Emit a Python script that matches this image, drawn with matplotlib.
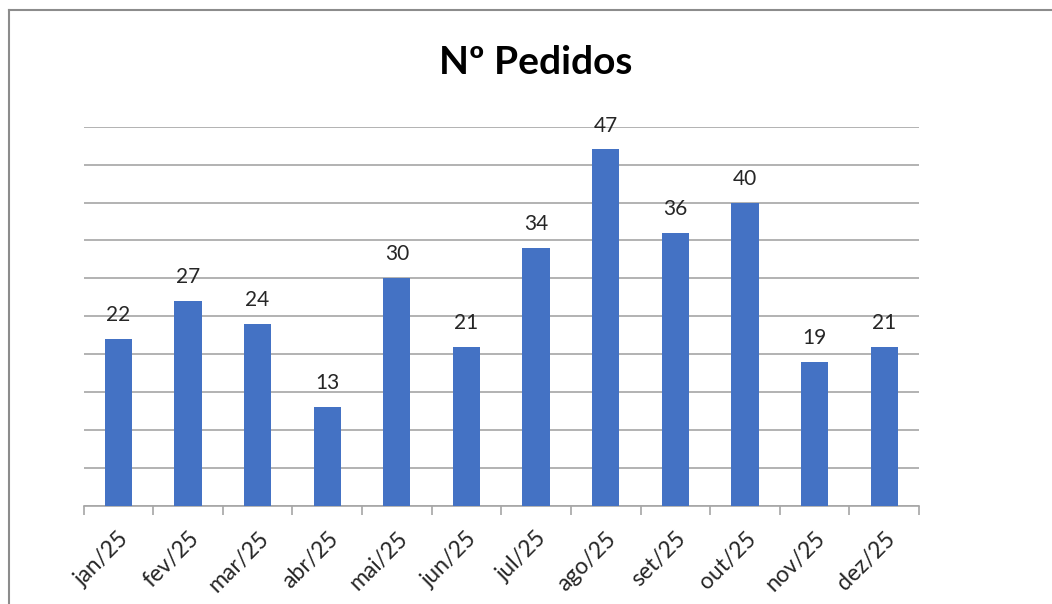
import numpy as np
import matplotlib.pyplot as plt
from matplotlib.lines import Line2D

# Nº Pedidos por mês
meses = ["jan/25", "fev/25", "mar/25", "abr/25", "mai/25", "jun/25",
         "jul/25", "ago/25", "set/25", "out/25", "nov/25", "dez/25"]
pedidos = [22, 27, 24, 13, 30, 21, 34, 47, 36, 40, 19, 21]

plt.rcParams['font.family'] = ['Lato', 'DejaVu Sans']
cor_barra = '#4472C4'
cinza = '#A6A6A6'

fig = plt.figure(figsize=(10.52, 6.04), dpi=100)
ax = fig.add_axes([83.5/1052, 98.3/604, 835.5/1052, 379/604])

x = np.arange(len(meses))
bars = ax.bar(x, pedidos, width=0.39, color=cor_barra, zorder=3)

for xi, v in zip(x, pedidos):
    ax.annotate(str(v), (xi, v), xytext=(0, 10), textcoords='offset points',
                ha='center', va='bottom', fontsize=15, color='#262626')

ax.set_xlim(-0.5, len(meses) - 0.5)
ax.set_ylim(0, 50)
ax.set_yticks(np.arange(0, 55, 5))
ax.yaxis.grid(True, color=cinza, linewidth=1.2, zorder=0)
ax.tick_params(axis='y', left=False, labelleft=False)

ax.set_xticks(x)
ax.set_xticklabels(meses, rotation=45, ha='right', rotation_mode='anchor',
                   fontsize=16.5, color='#262626')
ax.tick_params(axis='x', which='major', length=0, pad=16)
ax.set_xticks(np.arange(-0.5, len(meses)), minor=True)
ax.tick_params(axis='x', which='minor', length=6.5, width=1.2, color=cinza)

for s in ['top', 'right', 'left']:
    ax.spines[s].set_visible(False)
ax.spines['bottom'].set_color(cinza)
ax.spines['bottom'].set_linewidth(1.2)

fig.text(536/1052, 1 - 62/604, "Nº Pedidos", ha='center', va='center',
         fontsize=28, fontweight='bold', color='black')

# moldura do gráfico
fig.add_artist(Line2D([9/1052, 9/1052], [0, 1 - 10/604], color='#8C8C8C', linewidth=1.5))
fig.add_artist(Line2D([9/1052, 1], [1 - 10/604, 1 - 10/604], color='#8C8C8C', linewidth=1.5))

fig.savefig('out.png', dpi=100)
